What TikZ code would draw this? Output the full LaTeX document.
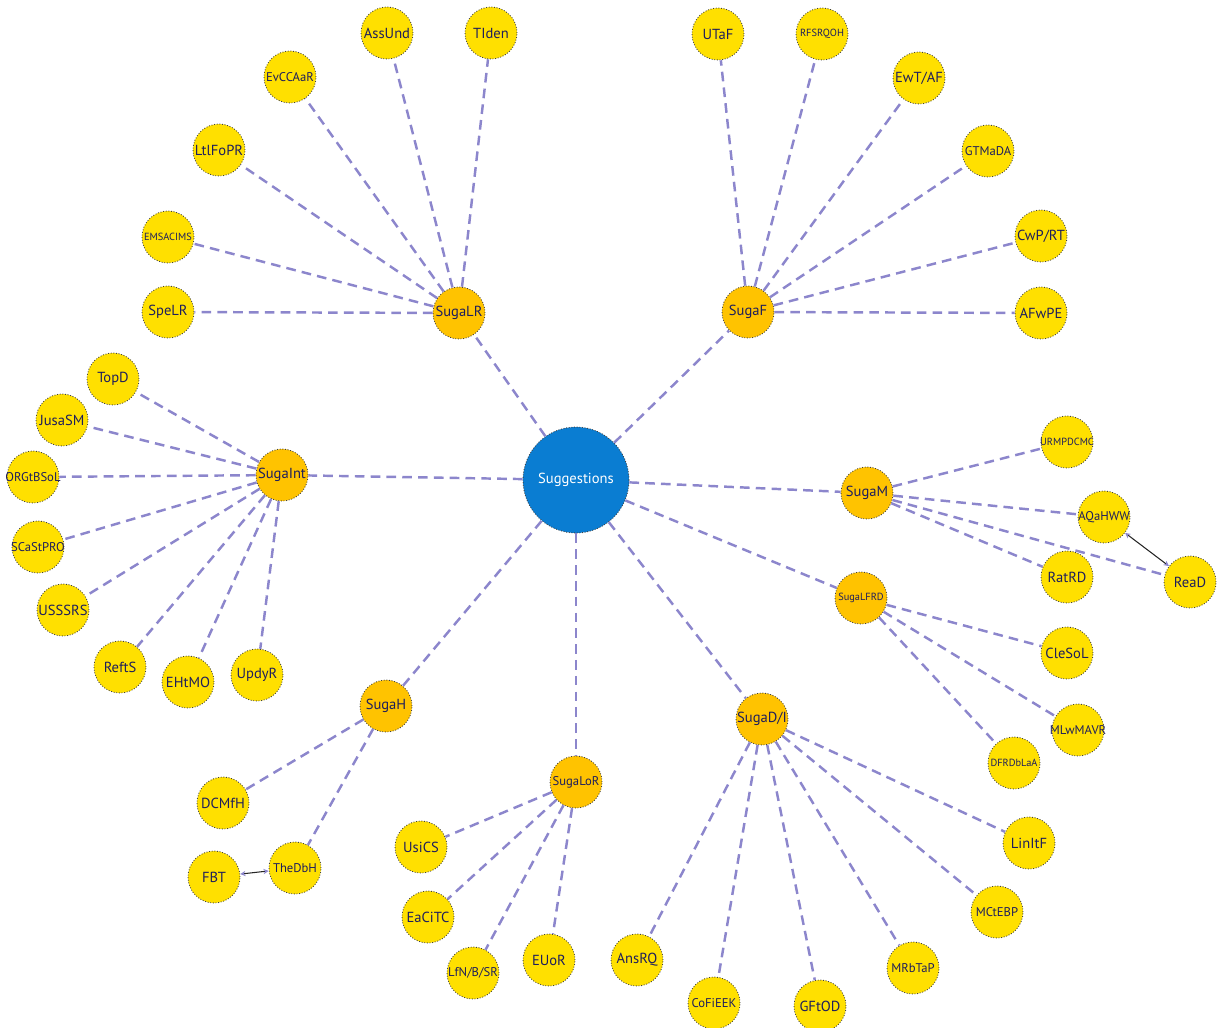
\documentclass[tikz,border=0pt]{standalone}
\usepackage{fontspec}
\setmainfont{PT Sans}
\usepackage{xcolor}
\usepackage{tikz}
\usetikzlibrary{arrows.meta}
\definecolor{leafyellow}{HTML}{FFE000}
\definecolor{huborange}{HTML}{FFC300}
\definecolor{rootblue}{HTML}{0A7DD2}
\definecolor{linkpurple}{HTML}{8C86CC}
\definecolor{labelnavy}{HTML}{1E1E5C}
\tikzstyle{leaf} = [circle, fill=leafyellow, draw=black!75, densely dotted, line width=0.5pt, minimum size=1.04cm, inner sep=0pt, text=labelnavy, font=\fontsize{8.3}{9}\selectfont, execute at begin node={\hbox to 0pt\bgroup\hss}, execute at end node={\hss\egroup}]
\tikzstyle{hub} = [leaf, fill=huborange]
\tikzstyle{root} = [leaf, fill=rootblue, minimum size=2.12cm, text=white]
\tikzstyle{small} = [font=\fontsize{7.2}{8}\selectfont]
\tikzstyle{tiny} = [font=\fontsize{5.9}{6.5}\selectfont]
\tikzstyle{link} = [linkpurple, line width=1.4pt, dash pattern=on 5.5pt off 3.5pt]
\tikzstyle{cross} = [{Stealth[length=3pt,width=3pt,linkpurple]}-{Stealth[length=3pt,width=3pt,linkpurple]}, black!85, line width=0.6pt]

\begin{document}
\begin{tikzpicture}[x=0.02cm, y=-0.02cm]
    \useasboundingbox (0,0) rectangle (1222,1027);
    % Root and hubs
    \node[root] (sugg) at (576,480) {Suggestions};
    \node[hub] (sugalr) at (459,313) {SugaLR};
    \node[hub] (sugaf) at (748,312) {SugaF};
    \node[hub] (sugaint) at (282,475) {SugaInt};
    \node[hub, tiny] (sugalfrd) at (861,598) {SugaLFRD};
    \node[hub] (sugam) at (867,493) {SugaM};
    \node[hub] (sugah) at (386,706) {SugaH};
    \node[hub, small] (sugalor) at (576,782) {SugaLoR};
    \node[hub] (sugadi) at (762,719) {SugaD/I};

    % Leaves of SugaLR
    \node[leaf] (assund) at (387,33) {AssUnd};
    \node[leaf] (tiden) at (491,33) {TIden};
    \node[leaf, small] (evccaar) at (290,77) {EvCCAaR};
    \node[leaf] (ltlfopr) at (219,150) {LtlFoPR};
    \node[leaf, tiny] (emsacims) at (168,237) {EMSACIMS};
    \node[leaf] (spelr) at (168,312) {SpeLR};

    % Leaves of SugaF
    \node[leaf] (utaf) at (718,34) {UTaF};
    \node[leaf, tiny] (rfsrqoh) at (822,34) {RFSRQOH};
    \node[leaf] (ewtaf) at (919,78) {EwT/AF};
    \node[leaf, small] (gtmada) at (988,151) {GTMaDA};
    \node[leaf] (cwprt) at (1041,236) {CwP/RT};
    \node[leaf] (afwpe) at (1041,313) {AFwPE};

    % Leaves of SugaInt
    \node[leaf] (topd) at (113,379) {TopD};
    \node[leaf] (jusasm) at (62,420) {JusaSM};
    \node[leaf, small] (orgtbsol) at (33,477) {ORGtBSoL};
    \node[leaf, small] (scastpro) at (38,547) {SCaStPRO};
    \node[leaf] (usssrs) at (63,610) {USSSRS};
    \node[leaf] (refts) at (120,667) {ReftS};
    \node[leaf] (ehtmo) at (188,682) {EHtMO};
    \node[leaf] (updyr) at (257,675) {UpdyR};

    % Leaves of SugaM
    \node[leaf, tiny] (urmpdcmc) at (1067,442) {URMPDCMC};
    \node[leaf, small] (aqahww) at (1104,517) {AQaHWW};
    \node[leaf] (ratrd) at (1067,577) {RatRD};
    \node[leaf] (read) at (1190,582) {ReaD};

    % Leaves of SugaLFRD
    \node[leaf] (clesol) at (1067,653) {CleSoL};
    \node[leaf, small] (mlwmavr) at (1078,730) {MLwMAVR};
    \node[leaf, tiny] (dfrdblaa) at (1014,763) {DFRDbLaA};

    % Leaves of SugaH
    \node[leaf] (dcmfh) at (223,803) {DCMfH};
    \node[leaf, small] (thedbh) at (295,868) {TheDbH};
    \node[leaf] (fbt) at (214,877) {FBT};

    % Leaves of SugaLoR
    \node[leaf] (usics) at (421,847) {UsiCS};
    \node[leaf] (eacitc) at (428,917) {EaCiTC};
    \node[leaf, small] (lfnbsr) at (473,973) {LfN/B/SR};
    \node[leaf] (euor) at (549,960) {EUoR};

    % Leaves of SugaD/I
    \node[leaf] (ansrq) at (637,960) {AnsRQ};
    \node[leaf, small] (cofieek) at (714,1003) {CoFiEEK};
    \node[leaf] (gftod) at (820,1006) {GFtOD};
    \node[leaf, small] (mrbtap) at (913,968) {MRbTaP};
    \node[leaf, small] (mctebp) at (997,912) {MCtEBP};
    \node[leaf] (linitf) at (1029,843) {LinItF};

    % Links
    \foreach \h in {sugalr,sugaf,sugaint,sugam,sugalfrd,sugah,sugalor,sugadi}
        \draw[link] (sugg) -- (\h);
    \foreach \l in {assund,tiden,evccaar,ltlfopr,emsacims,spelr}
        \draw[link] (sugalr) -- (\l);
    \foreach \l in {utaf,rfsrqoh,ewtaf,gtmada,cwprt,afwpe}
        \draw[link] (sugaf) -- (\l);
    \foreach \l in {topd,jusasm,orgtbsol,scastpro,usssrs,refts,ehtmo,updyr}
        \draw[link] (sugaint) -- (\l);
    \foreach \l in {urmpdcmc,aqahww,ratrd,read}
        \draw[link] (sugam) -- (\l);
    \foreach \l in {clesol,mlwmavr,dfrdblaa}
        \draw[link] (sugalfrd) -- (\l);
    \foreach \l in {dcmfh,thedbh}
        \draw[link] (sugah) -- (\l);
    \foreach \l in {usics,eacitc,lfnbsr,euor}
        \draw[link] (sugalor) -- (\l);
    \foreach \l in {ansrq,cofieek,gftod,mrbtap,mctebp,linitf}
        \draw[link] (sugadi) -- (\l);
    \draw[cross] (aqahww) -- (read);
    \draw[cross] (thedbh) -- (fbt);
\end{tikzpicture}
\end{document}
